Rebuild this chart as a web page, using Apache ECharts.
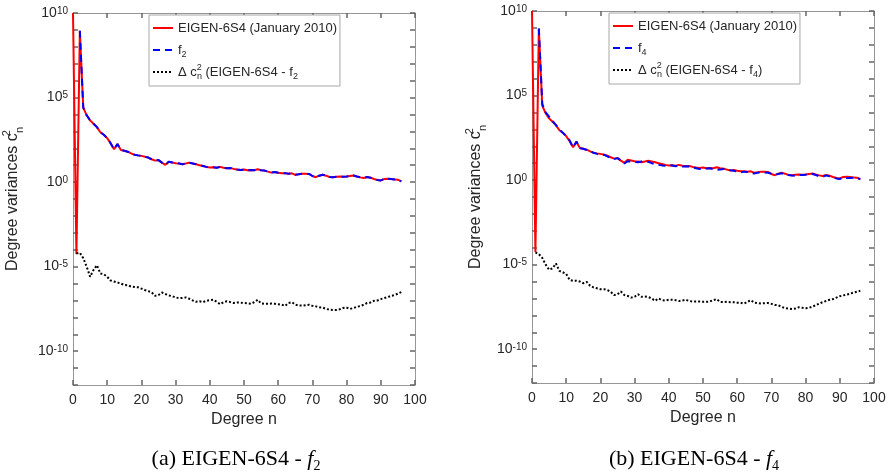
<!DOCTYPE html>
<html>
<head>
<meta charset="utf-8">
<script src="https://cdn.jsdelivr.net/npm/echarts@6/dist/echarts.min.js"></script>
<style>
  html, body { margin: 0; padding: 0; background: #fff; }
  #chart { width: 891px; height: 475px; }
</style>
</head>
<body>
<div id="chart"></div>
<script>
// Spherical-harmonic degree n (0 ... 96)
const degrees = Array.from({ length: 97 }, (_, i) => i);

// log10 of degree variances c_n^2, EIGEN-6S4 (January 2010), n = 0..96
const eigenLog = [
  10.0, -4.25, 8.95, 4.4, 3.95, 3.65, 3.45, 3.25, 2.95, 2.8,
  2.6, 2.3, 1.94, 2.25, 1.9, 1.85, 1.8, 1.7, 1.62, 1.58,
  1.55, 1.5, 1.45, 1.35, 1.27, 1.3, 1.15, 1.02, 1.2, 1.16,
  1.12, 1.1, 1.06, 1.1, 1.15, 1.1, 1.05, 1.0, 0.95, 0.9,
  0.86, 0.88, 0.85, 0.9, 0.85, 0.82, 0.83, 0.78, 0.74, 0.72,
  0.74, 0.7, 0.72, 0.7, 0.76, 0.7, 0.68, 0.62, 0.56, 0.6,
  0.55, 0.52, 0.53, 0.5, 0.52, 0.43, 0.46, 0.5, 0.49, 0.48,
  0.36, 0.29, 0.38, 0.43, 0.38, 0.3, 0.29, 0.32, 0.33, 0.32,
  0.33, 0.36, 0.39, 0.33, 0.28, 0.24, 0.3, 0.26, 0.18, 0.12,
  0.1, 0.18, 0.2, 0.18, 0.16, 0.14, 0.04
];

// log10 of degree variances of model f2, n = 2..96
const f2Start = 2;
const f2Log = [
  8.95, 4.4, 3.95, 3.65, 3.45, 3.25, 2.95, 2.8,
  2.6, 2.3, 1.94, 2.25, 1.9, 1.85, 1.8, 1.7, 1.62, 1.58,
  1.55, 1.5, 1.45, 1.35, 1.27, 1.3, 1.15, 1.02, 1.2, 1.16,
  1.12, 1.1, 1.06, 1.1, 1.15, 1.1, 1.05, 1.0, 0.95, 0.9,
  0.86, 0.88, 0.85, 0.9, 0.85, 0.82, 0.83, 0.78, 0.74, 0.72,
  0.74, 0.7, 0.72, 0.7, 0.76, 0.7, 0.68, 0.62, 0.56, 0.6,
  0.55, 0.52, 0.53, 0.5, 0.52, 0.43, 0.46, 0.5, 0.49, 0.48,
  0.36, 0.29, 0.38, 0.43, 0.38, 0.3, 0.29, 0.32, 0.33, 0.32,
  0.33, 0.36, 0.39, 0.33, 0.28, 0.24, 0.3, 0.26, 0.18, 0.12,
  0.1, 0.18, 0.2, 0.18, 0.16, 0.14, 0.04
];

// log10 of degree variances of model f4, n = 2..96
const f4Start = 2;
const f4Log = [
  8.97, 4.5, 4.0, 3.75, 3.5, 3.25, 3.0, 2.8,
  2.62, 2.35, 1.93, 2.28, 1.89, 1.85, 1.78, 1.7, 1.62, 1.55,
  1.5, 1.5, 1.4, 1.3, 1.24, 1.3, 1.15, 0.98, 1.12, 1.1,
  1.08, 1.05, 1.1, 1.14, 1.08, 1.0, 0.95, 0.9, 0.87, 0.85,
  0.88, 0.86, 0.82, 0.85, 0.8, 0.82, 0.8, 0.75, 0.7, 0.65,
  0.7, 0.68, 0.7, 0.65, 0.6, 0.62, 0.66, 0.62, 0.58, 0.55,
  0.5, 0.45, 0.5, 0.48, 0.42, 0.39, 0.44, 0.45, 0.45, 0.43,
  0.38, 0.31, 0.36, 0.4, 0.36, 0.3, 0.27, 0.25, 0.3, 0.3,
  0.32, 0.34, 0.36, 0.3, 0.22, 0.2, 0.28, 0.22, 0.16, 0.1,
  0.06, 0.15, 0.12, 0.12, 0.14, 0.12, 0.06
];

// log10 of difference degree variances EIGEN-6S4 - f2, n = 1..96
const dF2Start = 1;
const dF2Log = [
  -4.22, -4.18, -4.5, -5.0, -5.6, -5.2, -4.92, -5.4, -5.45, -5.6,
  -5.82, -5.88, -5.94, -6.0, -6.08, -6.1, -6.18, -6.2, -6.22, -6.3,
  -6.38, -6.45, -6.52, -6.73, -6.68, -6.53, -6.62, -6.7, -6.75, -6.82,
  -6.87, -6.85, -6.82, -6.9, -7.0, -7.08, -7.05, -7.1, -7.02, -6.98,
  -6.96, -7.08, -7.22, -7.1, -7.05, -7.1, -7.15, -7.12, -7.13, -7.15,
  -7.16, -7.2, -7.1, -6.96, -7.18, -7.2, -7.2, -7.18, -7.2, -7.22,
  -7.25, -7.32, -7.15, -7.1, -7.25, -7.3, -7.3, -7.28, -7.25, -7.32,
  -7.35, -7.4, -7.42, -7.5, -7.55, -7.56, -7.56, -7.52, -7.45, -7.42,
  -7.5, -7.45, -7.38, -7.33, -7.25, -7.15, -7.12, -7.02, -7.0, -6.92,
  -6.86, -6.8, -6.73, -6.68, -6.6, -6.5
];

// log10 of difference degree variances EIGEN-6S4 - f4, n = 1..96
const dF4Start = 1;
const dF4Log = [
  -4.28, -4.38, -4.6, -5.0, -5.3, -5.22, -4.93, -5.37, -5.45, -5.55,
  -5.9, -5.96, -5.95, -6.0, -6.1, -6.02, -6.25, -6.35, -6.4, -6.45,
  -6.45, -6.5, -6.6, -6.8, -6.75, -6.59, -6.8, -6.85, -6.95, -6.9,
  -6.75, -6.9, -6.88, -6.92, -7.0, -7.14, -7.0, -7.1, -7.12, -7.08,
  -7.08, -7.1, -7.15, -7.12, -7.08, -7.15, -7.18, -7.18, -7.18, -7.2,
  -7.2, -7.18, -7.1, -7.04, -7.2, -7.22, -7.2, -7.22, -7.22, -7.25,
  -7.25, -7.3, -7.2, -7.1, -7.25, -7.28, -7.3, -7.28, -7.27, -7.32,
  -7.38, -7.4, -7.5, -7.57, -7.6, -7.63, -7.6, -7.52, -7.55, -7.58,
  -7.55, -7.48, -7.4, -7.3, -7.22, -7.15, -7.08, -7.04, -6.95, -6.87,
  -6.82, -6.77, -6.72, -6.65, -6.6, -6.55
];

// Axis ranges and labelled exponents
const xTicks = [0, 10, 20, 30, 40, 50, 60, 70, 80, 90, 100];
const yLabelExponents = [-10, -5, 0, 5, 10];
const yMinExp = -12;
const yMaxExp = 10;

const SANS = '"Liberation Sans", Arial, Helvetica, sans-serif';
const SERIF = '"Liberation Serif", "Times New Roman", serif';
const AXIS_GRAY = '#969696';
const TICK_GRAY = '#666666';
const TEXT = '#262626';

function toPairs(logs, start) {
  return logs.map((e, i) => [degrees[start + i], Math.pow(10, e)]);
}

function makeTick() {
  return { show: true, inside: true, length: 5, lineStyle: { color: TICK_GRAY, width: 1.5 } };
}
function makeLine() {
  return { show: true, onZero: false, lineStyle: { color: AXIS_GRAY, width: 1 } };
}

function axesFor(grid, yNameGap) {
  const xBase = () => ({
    gridIndex: grid, type: 'value', min: xTicks[0], max: xTicks[xTicks.length - 1],
    interval: xTicks[1] - xTicks[0], splitLine: { show: false },
    axisLine: makeLine(), axisTick: makeTick()
  });
  const yBase = () => ({
    gridIndex: grid, type: 'log', logBase: 10,
    min: Math.pow(10, yMinExp), max: Math.pow(10, yMaxExp), interval: 1,
    splitLine: { show: false }, axisLine: makeLine(), axisTick: makeTick()
  });
  return {
    x: [
      Object.assign(xBase(), {
        position: 'bottom',
        axisLabel: { color: TEXT, fontSize: 14, fontFamily: SANS, margin: 8 },
        name: 'Degree n', nameLocation: 'middle', nameGap: 25,
        nameTextStyle: { color: TEXT, fontSize: 16, fontFamily: SANS }
      }),
      Object.assign(xBase(), { position: 'top', axisLabel: { show: false } })
    ],
    y: [
      Object.assign(yBase(), {
        position: 'left',
        axisLabel: {
          color: TEXT, fontSize: 14, fontFamily: SANS, margin: 5,
          formatter: v => {
            const e = Math.round(Math.log10(v));
            return yLabelExponents.indexOf(e) >= 0 ? '10{e|' + e + '}' : '';
          },
          rich: { e: { fontSize: 10, lineHeight: 10, verticalAlign: 'top', color: TEXT, fontFamily: SANS } }
        },
        name: 'Degree variances c{sup|2}{sub|n}', nameLocation: 'middle', nameGap: yNameGap,
        nameRotate: 90,
        nameTextStyle: {
          color: TEXT, fontSize: 16, lineHeight: 24, fontFamily: SANS,
          rich: {
            sup: { fontSize: 11, lineHeight: 11, verticalAlign: 'top', width: 0.1, color: TEXT, fontFamily: SANS },
            sub: { fontSize: 11, lineHeight: 11, verticalAlign: 'bottom', color: TEXT, fontFamily: SANS }
          }
        }
      }),
      Object.assign(yBase(), { position: 'right', axisLabel: { show: false } })
    ]
  };
}

const leftAxes = axesFor(0, 48);
const rightAxes = axesFor(1, 44);

const NAME_EIGEN = 'EIGEN-6S4 (January 2010)';
const NAME_F2 = 'f2';
const NAME_F4 = 'f4';
const NAME_D2 = 'Δ c2n (EIGEN-6S4 - f2';
const NAME_D4 = 'Δ c2n (EIGEN-6S4 - f4)';

const legendLabels = {};
legendLabels[NAME_EIGEN] = NAME_EIGEN;
legendLabels[NAME_F2] = 'f{subOnly|2}';
legendLabels[NAME_F4] = 'f{subOnly|4}';
legendLabels[NAME_D2] = 'Δ c{sup|2}{sub|n} (EIGEN-6S4 - f{subOnly|2}';
legendLabels[NAME_D4] = 'Δ c{sup|2}{sub|n} (EIGEN-6S4 - f{subOnly|4})';

function legendFor(names, left, top) {
  return {
    data: names, orient: 'vertical', left: left, top: top,
    itemWidth: 20, itemHeight: 10, itemGap: 4,
    padding: [4, 3, 5, 3],
    borderColor: '#a8a8a8', borderWidth: 1, backgroundColor: '#fff',
    selectedMode: false,
    itemStyle: { opacity: 0 },
    formatter: n => legendLabels[n],
    textStyle: {
      color: TEXT, fontSize: 13, fontFamily: SANS, lineHeight: 18,
      rich: {
        sup: { fontSize: 9, lineHeight: 9, verticalAlign: 'top', width: 0.1, color: TEXT, fontFamily: SANS },
        sub: { fontSize: 9, lineHeight: 9, verticalAlign: 'bottom', color: TEXT, fontFamily: SANS },
        subOnly: { fontSize: 9, lineHeight: 9, verticalAlign: 'bottom', color: TEXT, fontFamily: SANS }
      }
    }
  };
}

function lineSeries(name, pairs, xi, yi, color, type, width) {
  return {
    name: name, type: 'line', xAxisIndex: xi, yAxisIndex: yi,
    data: pairs, showSymbol: false, symbol: 'none', clip: true,
    lineStyle: { color: color, width: width, type: type },
    itemStyle: { color: color },
    emphasis: { disabled: true }, animation: false
  };
}

const captionRich = {
  i: { fontStyle: 'italic', fontSize: 22, fontFamily: SERIF, color: '#000' },
  s: { fontSize: 14, fontFamily: SERIF, color: '#000', verticalAlign: 'bottom', lineHeight: 14 }
};

const captionStyle = {
  fontFamily: SERIF, fontSize: 22, fontWeight: 'normal', color: '#000', lineHeight: 28, rich: captionRich
};

const option = {
  backgroundColor: '#fff',
  animation: false,
  title: [
    { text: '(a) EIGEN-6S4 - {i|f}{s|2}', left: 231, top: 440, textAlign: 'center', textStyle: captionStyle },
    { text: '(b) EIGEN-6S4 - {i|f}{s|4}', left: 689, top: 440, textAlign: 'center', textStyle: captionStyle }
  ],
  grid: [
    { left: 73, top: 13, width: 342, height: 372, containLabel: false },
    { left: 532, top: 11, width: 342, height: 372, containLabel: false }
  ],
  xAxis: leftAxes.x.concat(rightAxes.x),
  yAxis: leftAxes.y.concat(rightAxes.y),
  legend: [
    legendFor([NAME_EIGEN, NAME_F2, NAME_D2], 149, 15),
    legendFor([NAME_EIGEN, NAME_F4, NAME_D4], 609, 13)
  ],
  series: [
    lineSeries(NAME_EIGEN, toPairs(eigenLog, 0), 0, 0, '#ff0000', 'solid', 2),
    lineSeries(NAME_F2, toPairs(f2Log, f2Start), 0, 0, '#0000ff', [7, 5], 2),
    lineSeries(NAME_D2, toPairs(dF2Log, dF2Start), 0, 0, '#000000', 'dotted', 2),
    lineSeries(NAME_EIGEN, toPairs(eigenLog, 0), 2, 2, '#ff0000', 'solid', 2),
    lineSeries(NAME_F4, toPairs(f4Log, f4Start), 2, 2, '#0000ff', [7, 5], 2),
    lineSeries(NAME_D4, toPairs(dF4Log, dF4Start), 2, 2, '#000000', 'dotted', 2)
  ]
};

const chart = echarts.init(document.getElementById('chart'), null, { renderer: 'canvas' });
chart.setOption(option);
</script>
</body>
</html>
